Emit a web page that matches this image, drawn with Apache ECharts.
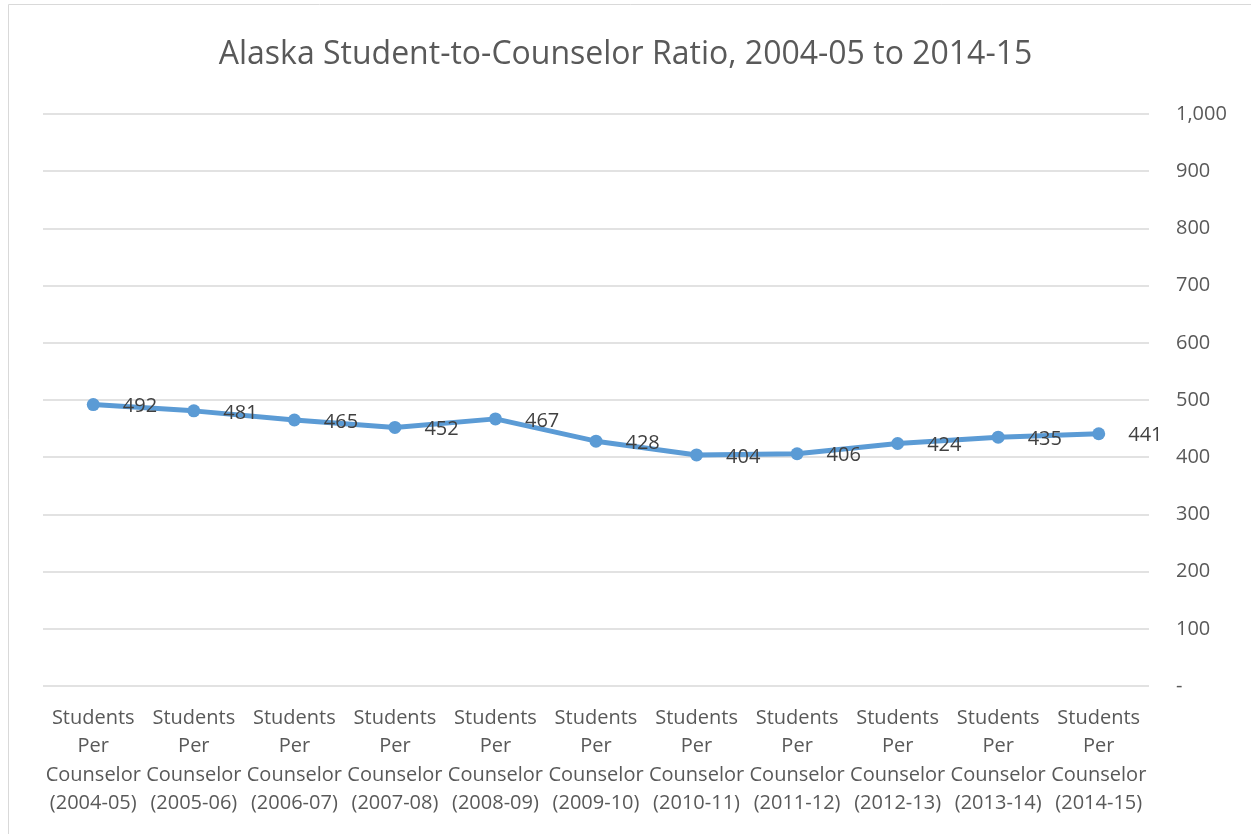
<!DOCTYPE html>
<html>
<head>
<meta charset="utf-8">
<script src="https://cdn.jsdelivr.net/npm/echarts@6/dist/echarts.min.js"></script>
<style>
  html, body { margin: 0; padding: 0; background: #fff; }
  #main { width: 1251px; height: 834px; }
</style>
</head>
<body>
<div id="main"></div>
<script>
// 数据
var years = ['2004-05', '2005-06', '2006-07', '2007-08', '2008-09', '2009-10',
             '2010-11', '2011-12', '2012-13', '2013-14', '2014-15'];
var ratios = [492, 481, 465, 452, 467, 428, 404, 406, 424, 435, 441];
var yTicks = [0, 100, 200, 300, 400, 500, 600, 700, 800, 900, 1000];

var categories = years.map(function (y) {
  return 'Students\nPer\nCounselor\n(' + y + ')';
});

var chart = echarts.init(document.getElementById('main'));
var fontFam = '"Open Sans", "Noto Sans", sans-serif';

var option = {
  animation: false,
  textStyle: { fontFamily: fontFam },
  title: {
    text: 'Alaska Student-to-Counselor Ratio, 2004-05 to 2014-15',
    left: 'center',
    top: 34,
    textStyle: { fontSize: 32, fontWeight: 'normal', color: '#595959', fontFamily: fontFam }
  },
  // 外边框
  graphic: [{
    type: 'rect',
    shape: { x: 8.5, y: 4.5, width: 1300, height: 900 },
    style: { fill: 'none', stroke: '#d9d9d9', lineWidth: 1 },
    silent: true
  }],
  grid: { left: 43, right: 102, top: 114, bottom: 148 },
  xAxis: {
    type: 'category',
    data: categories,
    boundaryGap: true,
    axisLine: { show: false },
    axisTick: { show: false },
    axisLabel: {
      interval: 0,
      margin: 18,
      fontSize: 20,
      lineHeight: 28.5,
      color: '#595959'
    }
  },
  yAxis: {
    type: 'value',
    position: 'right',
    min: yTicks[0],
    max: yTicks[yTicks.length - 1],
    interval: 100,
    axisLine: { show: false },
    axisTick: { show: false },
    splitLine: { lineStyle: { color: '#d9d9d9', width: 1.5 } },
    axisLabel: {
      margin: 27,
      fontSize: 20,
      color: '#595959',
      align: 'left',
      formatter: function (v) {
        if (v === 0) return '-';
        return v.toLocaleString('en-US');
      }
    }
  },
  series: [{
    type: 'line',
    data: ratios,
    symbol: 'circle',
    symbolSize: 13,
    lineStyle: { color: '#5b9bd5', width: 5 },
    itemStyle: { color: '#5b9bd5' },
    label: {
      show: true,
      position: 'right',
      distance: 23,
      offset: [0, 2],
      fontSize: 20,
      color: '#404040'
    }
  }]
};
chart.setOption(option);
</script>
</body>
</html>
